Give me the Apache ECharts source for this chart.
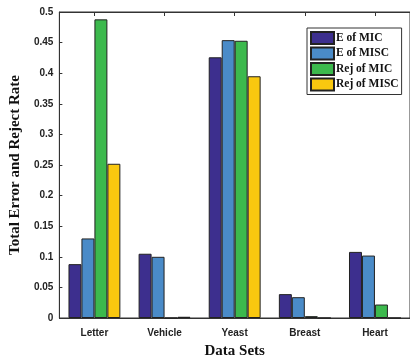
<!DOCTYPE html>
<html><head><meta charset="utf-8">
<script src="https://cdn.jsdelivr.net/npm/echarts@6/dist/echarts.min.js"></script>
<style>html,body{margin:0;padding:0;background:#fff}#c{width:410px;height:364px}</style>
</head><body><div id="c"></div>
<script>
const categories = ['Letter','Vehicle','Yeast','Breast','Heart'];
const eOfMIC = [0.088, 0.105, 0.426, 0.039, 0.108];
const eOfMISC = [0.130, 0.100, 0.454, 0.034, 0.102];
const rejOfMIC = [0.488, 0, 0.453, 0.003, 0.022];
const rejOfMISC = [0.252, 0.002, 0.395, 0, 0];
const yTicks = [0, 0.05, 0.1, 0.15, 0.2, 0.25, 0.3, 0.35, 0.4, 0.45, 0.5];
const seriesNames = ['E of MIC','E of MISC','Rej of MIC','Rej of MISC'];
const colors = ['#3d2f8e','#4a8bc8','#3cb94d','#f9c80f'];
const dataSets = [eOfMIC, eOfMISC, rejOfMIC, rejOfMISC];

const series = dataSets.map((d, i) => ({
  name: seriesNames[i], type: 'bar', data: d, xAxisIndex: 0,
  barGap: '0%', barCategoryGap: '26%',
  itemStyle: {color: colors[i], borderColor: '#222', borderWidth: 1}
}));
series.push({type: 'line', xAxisIndex: 1, data: [], silent: true, showSymbol: false});

const chart = echarts.init(document.getElementById('c'));
chart.setOption({
  animation: false,
  grid: {left: 52, top: 12, right: -6, bottom: 46, show: true, borderColor: '#333', borderWidth: 1},
  legend: {
    orient: 'vertical', left: 307, top: 28, icon: 'rect',
    backgroundColor: '#fff', borderColor: '#333', borderWidth: 1,
    padding: [3, 3, 3, 3], itemWidth: 23, itemHeight: 12, itemGap: 1.5,
    textStyle: {fontFamily: 'Liberation Serif', fontWeight: 'bold', fontSize: 11.5, color: '#111', padding: [0,0,0,-3]},
    data: seriesNames
  },
  xAxis: [{
    type: 'category', data: categories,
    name: 'Data Sets', nameLocation: 'middle', nameGap: 26,
    nameTextStyle: {fontFamily: 'Liberation Serif', fontWeight: 'bold', fontSize: 15, color: '#111'},
    axisLine: {lineStyle: {color: '#333'}},
    axisTick: {show: false},
    axisLabel: {fontFamily: 'Liberation Sans', fontWeight: 'bold', fontSize: 10, color: '#222', margin: 10}
  }, {
    type: 'category', data: categories, position: 'top', show: true,
    axisLine: {show: true, lineStyle: {color: '#333'}},
    axisTick: {show: true, inside: true, alignWithLabel: true, length: 4, lineStyle: {color: '#333', width: 1}},
    axisLabel: {show: false}
  }],
  yAxis: {
    type: 'value', min: 0, max: 0.5, interval: 0.05,
    name: 'Total Error and Reject Rate', nameLocation: 'middle', nameGap: 30,
    nameTextStyle: {fontFamily: 'Liberation Serif', fontWeight: 'bold', fontSize: 15, color: '#111'},
    axisLine: {show: true, lineStyle: {color: '#333'}},
    axisTick: {show: true, inside: true, length: 3, lineStyle: {color: '#333'}},
    splitLine: {show: false},
    axisLabel: {fontFamily: 'Liberation Sans', fontWeight: 'bold', fontSize: 10, color: '#222', margin: 6,
      formatter: v => { const t = yTicks.find(x => Math.abs(x - v) < 1e-9); return t === undefined ? '' : String(t); }}
  },
  series: series
});
</script></body></html>
